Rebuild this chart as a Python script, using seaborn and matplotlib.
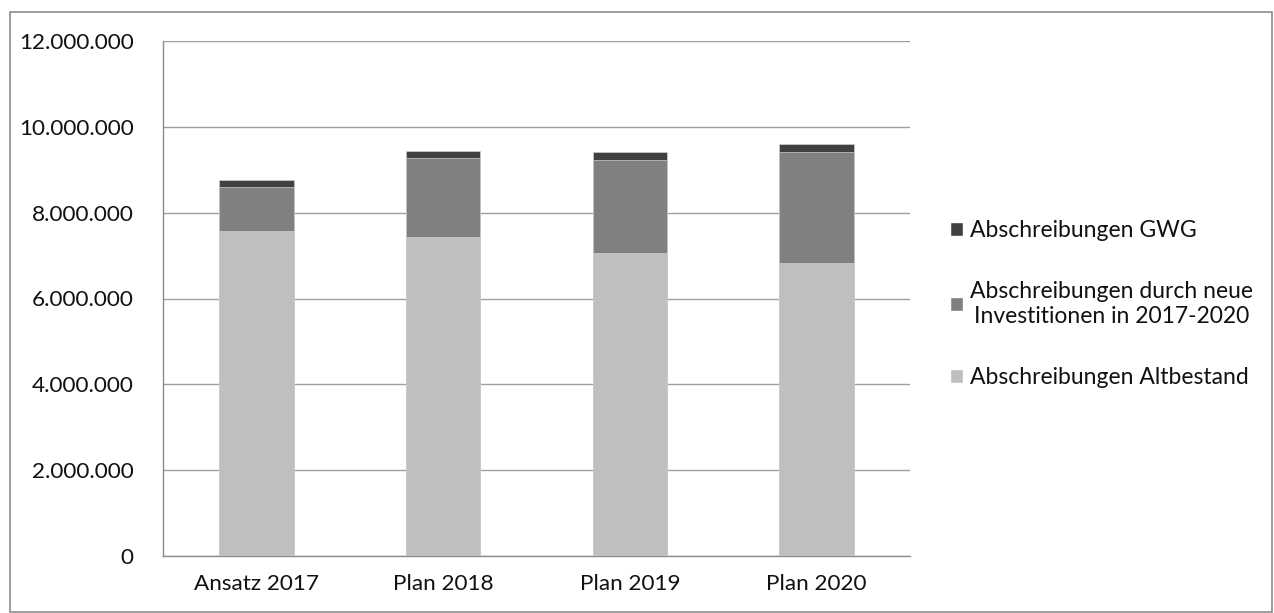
import matplotlib
matplotlib.use("Agg")
import matplotlib.pyplot as plt
import seaborn as sns
import pandas as pd
import numpy as np
from matplotlib.patches import Rectangle, Patch
from matplotlib.ticker import FuncFormatter, FixedLocator

categories = ["Ansatz 2017", "Plan 2018", "Plan 2019", "Plan 2020"]
altbestand = [7580000, 7430000, 7050000, 6830000]
neue_invest = [1020000, 1840000, 2170000, 2580000]
gwg = [150000, 170000, 190000, 200000]

labels = ["Abschreibungen Altbestand",
          "Abschreibungen durch neue\nInvestitionen in 2017-2020",
          "Abschreibungen GWG"]
colors = ["#BFBFBF", "#808080", "#404040"]

sns.set_theme(style="white")
plt.rcParams["font.family"] = ["Lato", "DejaVu Sans"]

fig = plt.figure(figsize=(12.74, 6.13), dpi=100)
ax = fig.add_axes([163/1274, 1-556/613, (910-163)/1274, (556-41)/613])

c1 = np.array(altbestand)
c2 = c1 + np.array(neue_invest)
c3 = c2 + np.array(gwg)
df = pd.DataFrame({"cat": categories, "alt": c1, "neu": c2, "gwg": c3})

for col, colr in zip(["gwg", "neu", "alt"], colors[::-1]):
    sns.barplot(data=df, x="cat", y=col, color=colr, width=0.4, ax=ax,
                saturation=1, edgecolor="#cfcfcf", linewidth=0.5, zorder=3)

ax.set_ylim(0, 12000000)
ax.set_xlim(-0.5, 3.5)
ax.set_yticks(np.arange(0, 12000001, 2000000))
ax.yaxis.set_major_formatter(FuncFormatter(lambda v, p: f"{int(v):,}".replace(",", ".")))
ax.grid(axis="y", color="#a0a0a0", linewidth=1.0, zorder=0)
ax.set_axisbelow(True)
ax.set_xlabel("")
ax.set_ylabel("")
for s in ["top", "right"]:
    ax.spines[s].set_visible(False)
for s in ["left", "bottom"]:
    ax.spines[s].set_color("#8c8c8c")
    ax.spines[s].set_linewidth(1.0)
ax.xaxis.set_minor_locator(FixedLocator([-0.5, 0.5, 1.5, 2.5, 3.5]))
ax.tick_params(axis="x", which="major", length=0, pad=13, labelsize=16.2)
ax.tick_params(axis="x", which="minor", length=7, width=1, color="#8c8c8c", direction="out")
ax.tick_params(axis="y", length=7, width=1, color="#8c8c8c", direction="out", pad=14,
               labelsize=16.2)
for t in ax.get_yticklabels() + ax.get_xticklabels():
    t.set_color("#111111")

handles = [Patch(facecolor=colors[2], label=labels[2]),
           Patch(facecolor=colors[1], label=labels[1]),
           Patch(facecolor=colors[0], label=labels[0])]
leg = fig.legend(handles=handles, loc="upper left", bbox_to_anchor=(941/1274, 1-211/613),
                 frameon=False, fontsize=16.5, handlelength=0.55, handleheight=0.55,
                 handletextpad=0.3, labelspacing=1.75, borderaxespad=0)
for t in leg.get_texts():
    t.set_multialignment("center")
    t.set_color("#111111")

fig.patches.append(Rectangle((10/1274, 1/613), 1262/1274, 600/613, transform=fig.transFigure,
                             fill=False, edgecolor="#8c8c8c", linewidth=1.2))

fig.savefig("out.png", dpi=100)
